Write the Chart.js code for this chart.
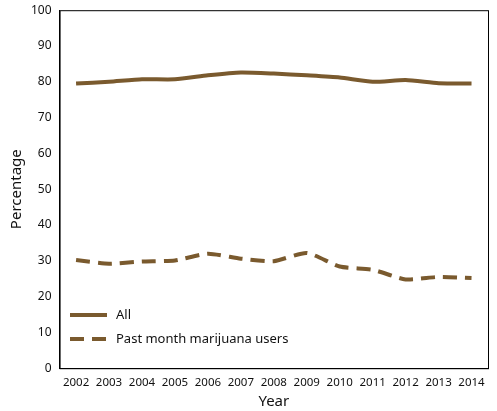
<!DOCTYPE html>
<html><head><meta charset="utf-8">
<script src="https://cdn.jsdelivr.net/npm/chart.js@4"></script>
<style>html,body{margin:0;padding:0;background:#fff}#wrap{width:497px;height:411px}</style>
</head><body><div id="wrap"><canvas id="c"></canvas></div>
<script>
const years = ["2002","2003","2004","2005","2006","2007","2008","2009","2010","2011","2012","2013","2014"];
const allUsers = [79.5, 80, 80.7, 80.7, 81.8, 82.6, 82.3, 81.8, 81.2, 80, 80.5, 79.6, 79.5];
const marijuanaUsers = [30.2, 29.2, 29.8, 30.1, 32, 30.6, 29.9, 32.2, 28.4, 27.5, 24.8, 25.5, 25.2];
const seriesNames = ["All", "Past month marijuana users"];
const lineColor = "#7a5a2e";
const font = "Noto Sans";

// legend inside plot + frame box
const extras = {
  id: 'extras',
  afterDraw(chart) {
    const ctx = chart.ctx, a = chart.chartArea;
    ctx.save();
    ctx.strokeStyle = '#000'; ctx.lineWidth = 1;
    ctx.strokeRect(a.left + 0.5, a.top + 0.5, a.right - a.left, a.bottom - a.top);
    ctx.strokeStyle = lineColor; ctx.lineWidth = 4;
    ctx.font = '13px "' + font + '"'; ctx.fillStyle = '#111'; ctx.textBaseline = 'middle';
    const rows = [[315, []], [339, [14, 8]]];
    rows.forEach(([y, dash], i) => {
      ctx.setLineDash(dash);
      ctx.beginPath(); ctx.moveTo(70, y); ctx.lineTo(107, y); ctx.stroke();
      ctx.fillText(seriesNames[i], 116, y);
    });
    ctx.restore();
  }
};

new Chart(document.getElementById('c'), {
  type: 'line',
  data: {
    labels: years,
    datasets: [
      { label: seriesNames[0], data: allUsers, borderColor: lineColor, borderWidth: 4, pointRadius: 0, tension: 0.2 },
      { label: seriesNames[1], data: marijuanaUsers, borderColor: lineColor, borderWidth: 4, borderDash: [14, 8], pointRadius: 0, tension: 0.2 }
    ]
  },
  options: {
    responsive: true, maintainAspectRatio: false, animation: false,
    layout: { padding: { top: 2, right: 9, bottom: 0, left: 6 } },
    plugins: { legend: { display: false }, tooltip: { enabled: false } },
    scales: {
      x: {
        offset: true,
        grid: { display: false, drawTicks: true, tickLength: 5, color: '#000' },
        border: { color: '#000' },
        ticks: { color: '#111', font: { family: font, size: 11.5 }, maxRotation: 0, autoSkip: false },
        title: { display: true, text: 'Year', color: '#111', font: { family: font, size: 15 }, padding: 0 }
      },
      y: {
        min: 0, max: 100,
        grid: { display: false, drawTicks: true, tickLength: 5 },
        border: { color: '#000' },
        ticks: { stepSize: 10, color: '#111', font: { family: font, size: 12 } },
        title: { display: true, text: 'Percentage', color: '#111', font: { family: font, size: 15 }, padding: 2 }
      }
    }
  },
  plugins: [extras]
});
</script></body></html>
